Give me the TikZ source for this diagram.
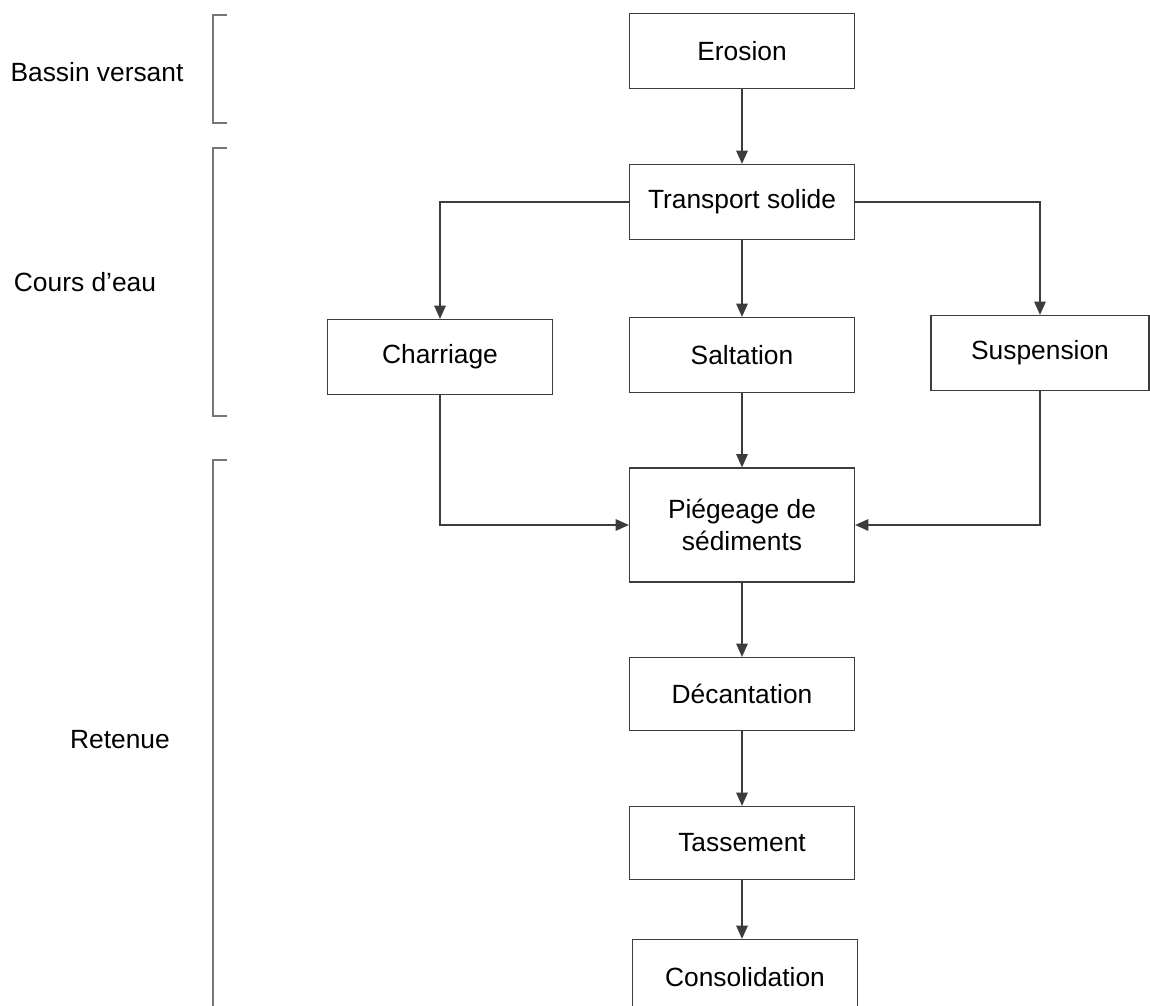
\documentclass[tikz,border=0pt]{standalone}
\usepackage{fontspec}
\setmainfont{Liberation Sans}
\usetikzlibrary{arrows.meta, positioning}
\definecolor{lineink}{RGB}{60, 60, 60}

\begin{document}
\begin{tikzpicture}[x=0.02cm, y=-0.02cm,
    stagebox/.style={draw=lineink, line width=0.7pt, minimum width=4.5cm, minimum height=1.5cm,
      align=center, font=\fontsize{15}{18.5}\selectfont},
    zonelabel/.style={font=\fontsize{15}{18.5}\selectfont},
    flow/.style={-{Triangle[length=7.5pt, width=6.5pt]}, draw=lineink, line width=0.75pt},
    zone/.style={draw=lineink!70, line width=0.7pt}]
        \useasboundingbox (0,0) rectangle (1150,1006);
        % Process boxes
        \node[stagebox] (erosion) at (742,51) {Erosion};
        \node[stagebox] (transport) at (742,202) {Transport solide};
        \node[stagebox] (charriage) at (440,357) {Charriage};
        \node[stagebox] (saltation) at (742,355) {Saltation};
        \node[stagebox, minimum width=4.36cm] (suspension) at (1040,353) {Suspension};
        \node[stagebox, minimum height=2.28cm] (piegeage) at (742,525) {Piégeage de\\sédiments};
        \node[stagebox, minimum height=1.46cm] (decantation) at (742,694) {Décantation};
        \node[stagebox, minimum height=1.46cm] (tassement) at (742,843) {Tassement};
        \node[stagebox] (consolidation) at (745,977) {Consolidation};
        % Zones
        \node[zonelabel] (bassin) at (97,72) {Bassin versant};
        \node[zonelabel] (cours) at (85,282) {Cours d'eau};
        \node[zonelabel] (retenue) at (120,740) {Retenue};
        \draw[zone] (227,15) -- (213,15) -- (213,123) -- (227,123);
        \draw[zone] (227,148) -- (213,148) -- (213,416) -- (227,416);
        \draw[zone] (227,460) -- (213,460) -- (213,1010);
        % Flows
        \draw[flow] (erosion) -- (transport);
        \draw[flow] (transport.west) -| (charriage.north);
        \draw[flow] (transport) -- (saltation);
        \draw[flow] (transport.east) -| (suspension.north);
        \draw[flow] (charriage.south) |- (piegeage.west);
        \draw[flow] (saltation) -- (piegeage);
        \draw[flow] (suspension.south) |- (piegeage.east);
        \draw[flow] (piegeage) -- (decantation);
        \draw[flow] (decantation) -- (tassement);
        \draw[flow] (tassement) -- (tassement |- consolidation.north);
      \end{tikzpicture}
\end{document}
